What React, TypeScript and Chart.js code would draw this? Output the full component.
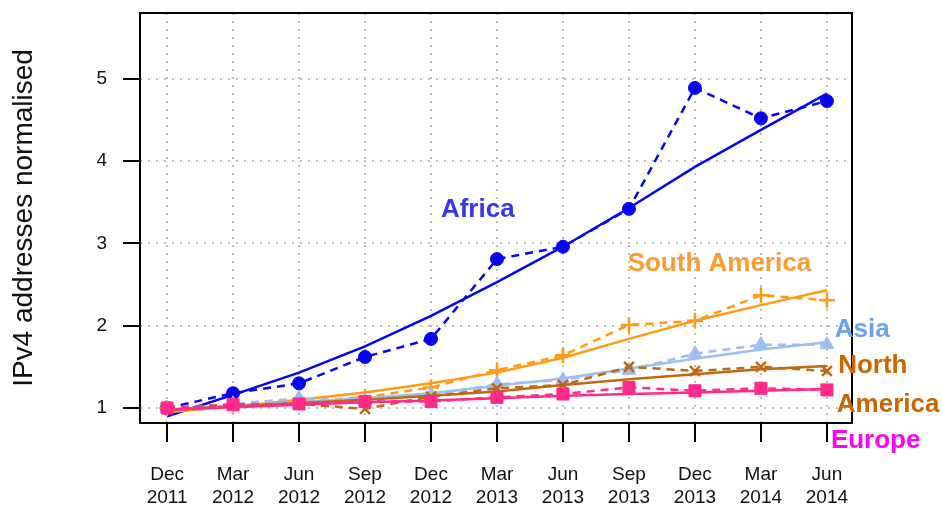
import React, { useEffect, useRef } from "react";
import { Chart, registerables } from "chart.js";

Chart.register(...registerables);

const tickMonths = ["Dec", "Mar", "Jun", "Sep", "Dec", "Mar", "Jun", "Sep", "Dec", "Mar", "Jun"];
const tickYears = ["2011", "2012", "2012", "2012", "2012", "2013", "2013", "2013", "2013", "2014", "2014"];
const yTicks = [1, 2, 3, 4, 5];

const africaObs = [1.0, 1.18, 1.3, 1.62, 1.84, 2.81, 2.96, 3.42, 4.89, 4.52, 4.73];
const africaFit = [0.9, 1.16, 1.43, 1.75, 2.12, 2.53, 2.96, 3.43, 3.93, 4.38, 4.82];
const southAmericaObs = [1.0, 1.04, 1.08, 1.13, 1.25, 1.46, 1.64, 2.01, 2.06, 2.37, 2.31];
const southAmericaFit = [0.95, 1.02, 1.1, 1.19, 1.3, 1.43, 1.61, 1.84, 2.06, 2.25, 2.43];
const asiaObs = [1.0, 1.05, 1.12, 1.09, 1.16, 1.29, 1.34, 1.46, 1.66, 1.77, 1.77];
const asiaFit = [0.98, 1.03, 1.07, 1.12, 1.18, 1.27, 1.36, 1.48, 1.6, 1.71, 1.8];
const northAmericaObs = [1.0, 1.04, 1.05, 0.99, 1.14, 1.24, 1.28, 1.5, 1.45, 1.5, 1.45];
const northAmericaFit = [0.98, 1.02, 1.06, 1.1, 1.15, 1.2, 1.28, 1.35, 1.41, 1.47, 1.51];
const europeObs = [1.0, 1.04, 1.05, 1.08, 1.08, 1.13, 1.17, 1.25, 1.21, 1.24, 1.22];
const europeFit = [0.98, 1.01, 1.04, 1.07, 1.09, 1.12, 1.15, 1.17, 1.19, 1.21, 1.23];

const labelTexts = ["Africa", "South America", "Asia", "North", "America", "Europe"];
const labelX = [4.15, 6.98, 10.12, 10.17, 10.15, 10.06];
const labelY = [3.32, 2.67, 1.86, 1.43, 0.95, 0.51];
const labelColors = ["#3535F2", "#FF9A33", "#6E9FF2", "#CC6600", "#CC6600", "#FF00F0"];

const FONT = "'Liberation Sans', Arial, Helvetica, sans-serif";

const pts = (arr: number[]) => arr.map((v, i) => ({ x: i, y: v }));

function series(obs: number[], fit: number[], color: string, style: string, radius: number, bw: number) {
  return [
    {
      data: pts(obs),
      borderColor: color,
      backgroundColor: color,
      borderWidth: 2.5,
      borderDash: [8, 6],
      pointStyle: style,
      pointRadius: radius,
      pointBackgroundColor: color,
      pointBorderColor: color,
      pointBorderWidth: bw,
      tension: 0,
    },
    {
      data: pts(fit),
      borderColor: color,
      backgroundColor: color,
      borderWidth: 2.5,
      pointRadius: 0,
      tension: 0,
    },
  ];
}

export default function App() {
  const ref = useRef<HTMLCanvasElement>(null);
  useEffect(() => {
    document.body.style.margin = "0";
    if (!ref.current) return;

    const boxPlugin = {
      id: "box",
      afterDatasetsDraw(chart: any) {
        const { ctx, chartArea } = chart;
        ctx.save();
        ctx.strokeStyle = "#000";
        ctx.lineWidth = 2;
        ctx.setLineDash([]);
        ctx.strokeRect(chartArea.left, chartArea.top, chartArea.right - chartArea.left, chartArea.bottom - chartArea.top);
        ctx.restore();
      },
    };

    const labelPlugin = {
      id: "labels",
      afterDraw(chart: any) {
        const { ctx } = chart;
        const xs = chart.scales.x;
        const ys = chart.scales.y;
        ctx.save();
        ctx.font = `bold 26px ${FONT}`;
        ctx.textAlign = "left";
        ctx.textBaseline = "alphabetic";
        labelTexts.forEach((t, i) => {
          ctx.fillStyle = labelColors[i];
          ctx.fillText(t, xs.getPixelForValue(labelX[i]), ys.getPixelForValue(labelY[i]));
        });
        ctx.restore();
      },
    };

    const gridCommon = {
      color: "#BDBDBD",
      lineWidth: 2,
      tickColor: "#000",
      tickWidth: 2,
      tickBorderDash: [],
    };

    const chart = new Chart(ref.current, {
      type: "line",
      data: {
        datasets: [
          ...series(europeObs, europeFit, "#FF2A8A", "rect", 8.5, 1),
          ...series(northAmericaObs, northAmericaFit, "#BF680F", "crossRot", 7, 2.5),
          ...series(asiaObs, asiaFit, "#9EBEF2", "triangle", 8, 1),
          ...series(southAmericaObs, southAmericaFit, "#FF9A12", "cross", 8, 2.5),
          ...series(africaObs, africaFit, "#0505F0", "circle", 6.5, 1),
        ] as any,
      },
      options: {
        responsive: false,
        animation: false,
        devicePixelRatio: 1,
        layout: { padding: { top: 13, right: 90, left: 0, bottom: 0 } },
        plugins: { legend: { display: false }, tooltip: { enabled: false } },
        scales: {
          x: {
            type: "linear",
            min: -0.41,
            max: 10.38,
            afterBuildTicks: (s: any) => {
              s.ticks = tickMonths.map((_, i) => ({ value: i }));
            },
            afterFit: (s: any) => {
              s.height = 83;
              s.paddingLeft = 0;
              s.paddingRight = 0;
            },
            ticks: {
              callback: (_v: any, i: number) => [tickMonths[i], tickYears[i]],
              font: { family: FONT, size: 19, lineHeight: 1.22 },
              color: "#111",
              padding: 21,
              autoSkip: false,
              maxRotation: 0,
              minRotation: 0,
            },
            grid: { ...gridCommon, tickLength: 19 },
            border: { display: false, dash: [2, 6] },
          },
          y: {
            type: "linear",
            min: 0.818,
            max: 5.8,
            afterBuildTicks: (s: any) => {
              s.ticks = yTicks.map((v) => ({ value: v }));
            },
            afterFit: (s: any) => {
              s.width = 140;
              s.paddingTop = 0;
              s.paddingBottom = 0;
            },
            ticks: {
              callback: (v: any) => String(v),
              font: { family: FONT, size: 19 },
              color: "#111",
              padding: 16,
            },
            grid: { ...gridCommon, tickLength: 17 },
            border: { display: false, dash: [2, 6] },
            title: {
              display: true,
              text: "IPv4 addresses normalised",
              font: { family: FONT, size: 28 },
              color: "#111",
              padding: { top: 7, bottom: 0 },
            },
          },
        },
      } as any,
      plugins: [boxPlugin, labelPlugin],
    });
    return () => chart.destroy();
  }, []);

  return (
    <div style={{ width: 942, height: 506 }}>
      <canvas ref={ref} width={942} height={506} style={{ display: "block" }} />
    </div>
  );
}
